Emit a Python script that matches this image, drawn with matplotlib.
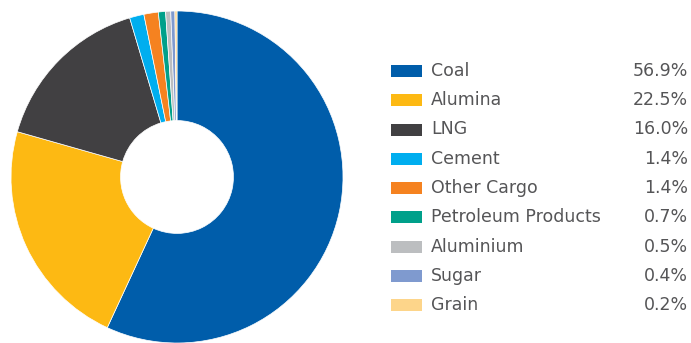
import matplotlib
matplotlib.use("Agg")
import matplotlib.pyplot as plt
from matplotlib.patches import Rectangle

categories = ["Coal", "Alumina", "LNG", "Cement", "Other Cargo",
              "Petroleum Products", "Aluminium", "Sugar", "Grain"]
shares = [56.9, 22.5, 16.0, 1.4, 1.4, 0.7, 0.5, 0.4, 0.2]
colors = ["#005DAA", "#FDB913", "#414042", "#00AEEF", "#F58220",
          "#00A08A", "#BCBEC0", "#7F9ACF", "#FDD58A"]

W, H = 691, 343
fig = plt.figure(figsize=(W / 100, H / 100), dpi=100)
fig.patch.set_facecolor("white")

# Donut chart
cx, cy, r = 177, 166, 166
ax = fig.add_axes([(cx - r) / W, (cy - r) / H, 2 * r / W, 2 * r / H])
ax.pie(shares, colors=colors, startangle=90, counterclock=False,
       radius=1.0,
       wedgeprops=dict(width=0.66, edgecolor="white", linewidth=0.5))
ax.set_xlim(-1, 1)
ax.set_ylim(-1, 1)
ax.set_aspect("equal")
ax.axis("off")

# Legend with values
lax = fig.add_axes([0, 0, 1, 1])
lax.set_xlim(0, W)
lax.set_ylim(H, 0)
lax.axis("off")
text_color = "#555557"
y0, step = 71, 29.25
for i, (cat, val, col) in enumerate(zip(categories, shares, colors)):
    y = y0 + i * step
    lax.add_patch(Rectangle((391, y - 6), 31, 12, facecolor=col, edgecolor="none"))
    lax.text(431, y, cat, fontsize=12.5, color=text_color, va="center", ha="left")
    lax.text(688, y, f"{val:.1f}%", fontsize=12.5, color=text_color, va="center", ha="right")

fig.savefig("out.png", dpi=100, facecolor="white")
